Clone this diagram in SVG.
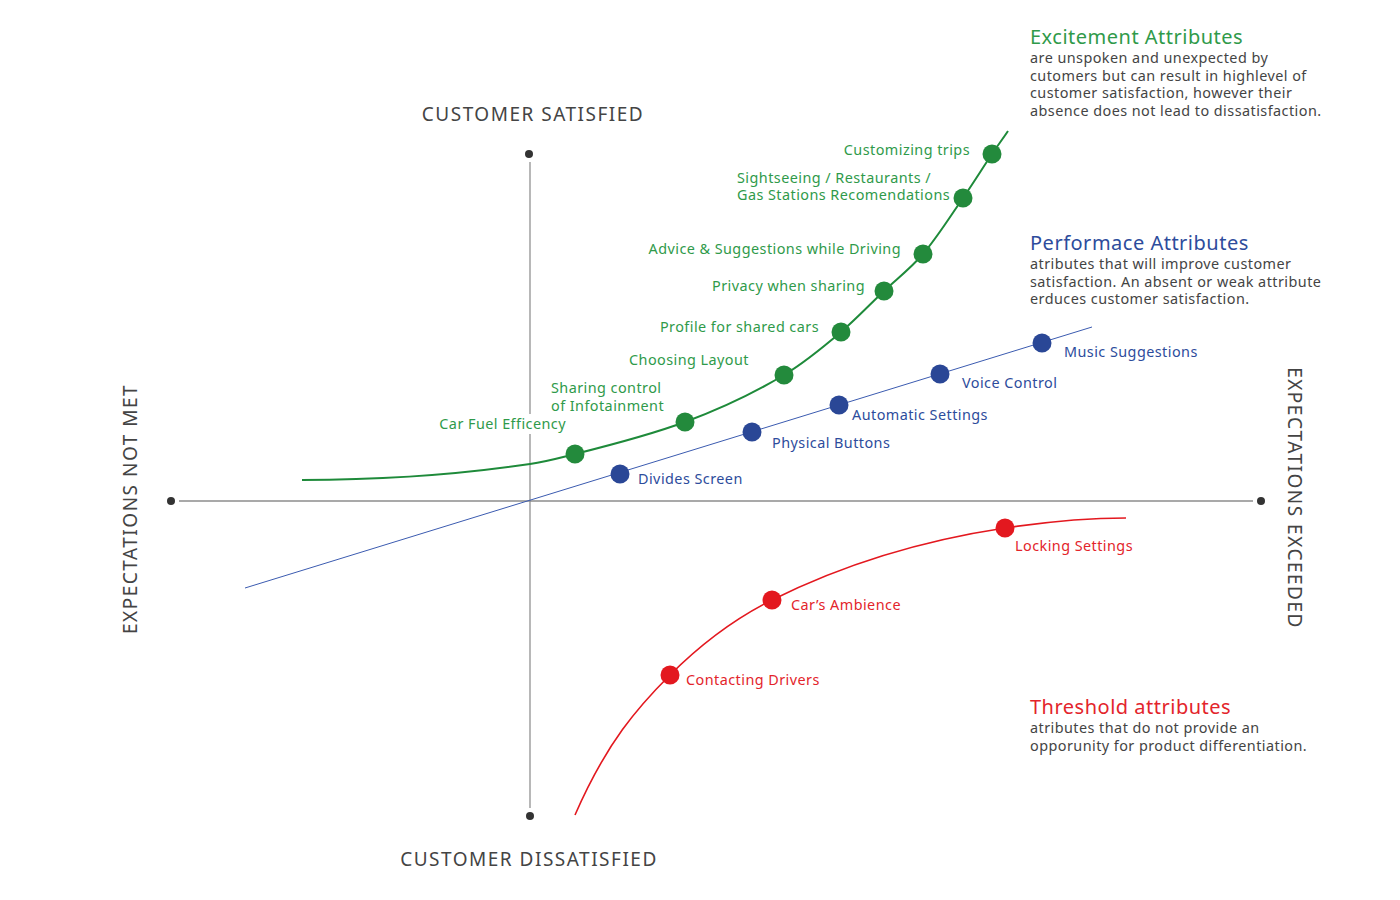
<svg xmlns="http://www.w3.org/2000/svg" width="1400" height="900" viewBox="0 0 1400 900">
<style>
text{font-family:"Noto Sans","Liberation Sans",sans-serif}
.axis-label{font-size:19px;fill:#444;letter-spacing:1.5px}
.lbl{font-size:14.4px;letter-spacing:0.45px}
.g{fill:#2f9a4a}
.b{fill:#2d4c9c}
.r{fill:#e3242b}
.gd{fill:#238a3c}
.bd{fill:#2a4796}
.rd{fill:#e3181f}
.title{font-size:20px;letter-spacing:0.5px}
.body{font-size:14.4px;fill:#444;letter-spacing:0.45px}
.ax-dot{fill:#333}
</style>
<rect width="1400" height="900" fill="#fff"/>
<g id="axes">
  <line x1="179" y1="501" x2="1253" y2="501" stroke="#555" stroke-width="1.2"/>
  <line x1="530" y1="162" x2="530" y2="808" stroke="#888" stroke-width="1.2"/>
  <circle class="ax-dot" cx="171" cy="501" r="4"/>
  <circle class="ax-dot" cx="1261" cy="501" r="4"/>
  <circle class="ax-dot" cx="529" cy="154" r="4"/>
  <circle class="ax-dot" cx="530" cy="816" r="4"/>
  <text class="axis-label" x="533" y="121" text-anchor="middle">CUSTOMER SATISFIED</text>
  <text class="axis-label" x="529" y="866" text-anchor="middle">CUSTOMER DISSATISFIED</text>
  <text class="axis-label" transform="translate(137,509) rotate(-90)" text-anchor="middle">EXPECTATIONS NOT MET</text>
  <text class="axis-label" transform="translate(1288,498) rotate(90)" text-anchor="middle">EXPECTATIONS EXCEEDED</text>
</g>
<g id="connectors" fill="none">
  <path id="excitement-curve" stroke="#1e8a3a" stroke-width="2" d="M302,480 C378,480 454,475.4 530,464 C545,461.75 560,457.75 575,454 C611.7,444.8 648.3,435.6 685,422 C718,409.8 751,394.8 784,375 C803,363.6 822,348.2 841,332 C855.3,319.8 869.7,304.6 884,291 C897,278.650 910,269 923,254 C936.3,238.7 949.7,217.3 963,198 C972.7,184 982.3,168.5 992,154 C997.3,146 1002.7,139 1008,131"/>
  <line id="performance-line" x1="245" y1="588" x2="1092" y2="327" stroke="#3b5bb0" stroke-width="1"/>
  <path id="threshold-curve" stroke="#e3181f" stroke-width="1.6" d="M575,815 C606.7,742.2 638.3,706.7 670,675 C704,641 738,617 772,600 C849.7,561.2 927.3,539.7 1005,528 C1045.3,522 1085.7,518 1126,518"/>
</g>
<g id="node-customizing-trips"><circle class="gd" cx="992" cy="154" r="9.5"/><text class="lbl g" x="970" y="155" text-anchor="end">Customizing trips</text></g>
<g id="node-sightseeing"><circle class="gd" cx="963" cy="198" r="9.5"/><text class="lbl g" x="737" y="183">Sightseeing / Restaurants /</text><text class="lbl g" x="737" y="200">Gas Stations Recomendations</text></g>
<g id="node-advice"><circle class="gd" cx="923" cy="254" r="9.5"/><text class="lbl g" x="901" y="254" text-anchor="end">Advice &amp; Suggestions while Driving</text></g>
<g id="node-privacy"><circle class="gd" cx="884" cy="291" r="9.5"/><text class="lbl g" x="865" y="291" text-anchor="end">Privacy when sharing</text></g>
<g id="node-profile"><circle class="gd" cx="841" cy="332" r="9.5"/><text class="lbl g" x="819" y="332" text-anchor="end">Profile for shared cars</text></g>
<g id="node-layout"><circle class="gd" cx="784" cy="375" r="9.5"/><text class="lbl g" x="749" y="365" text-anchor="end">Choosing Layout</text></g>
<g id="node-sharing"><circle class="gd" cx="685" cy="422" r="9.5"/><text class="lbl g" x="551" y="393">Sharing control</text><text class="lbl g" x="551" y="411">of Infotainment</text></g>
<g id="node-fuel"><circle class="gd" cx="575" cy="454" r="9.5"/><rect x="432" y="414" width="136" height="20" fill="#fff"/><text class="lbl g" x="566" y="429" text-anchor="end">Car Fuel Efficency</text></g>
<g id="node-divides"><circle class="bd" cx="620" cy="474" r="9.5"/><text class="lbl b" x="638" y="484">Divides Screen</text></g>
<g id="node-physical"><circle class="bd" cx="752" cy="432" r="9.5"/><text class="lbl b" x="772" y="448">Physical Buttons</text></g>
<g id="node-automatic"><circle class="bd" cx="839" cy="405" r="9.5"/><text class="lbl b" x="852" y="420">Automatic Settings</text></g>
<g id="node-voice"><circle class="bd" cx="940" cy="374" r="9.5"/><text class="lbl b" x="962" y="388">Voice Control</text></g>
<g id="node-music"><circle class="bd" cx="1042" cy="343" r="9.5"/><text class="lbl b" x="1064" y="357">Music Suggestions</text></g>
<g id="node-locking"><circle class="rd" cx="1005" cy="528" r="9.5"/><text class="lbl r" x="1015" y="551">Locking Settings</text></g>
<g id="node-ambience"><circle class="rd" cx="772" cy="600" r="9.5"/><text class="lbl r" x="791" y="610">Car’s Ambience</text></g>
<g id="node-contacting"><circle class="rd" cx="670" cy="675" r="9.5"/><text class="lbl r" x="686" y="685">Contacting Drivers</text></g>
<g id="legend-excitement">
  <text class="title g" x="1030" y="44">Excitement Attributes</text>
  <text class="body" x="1030" y="63">are unspoken and unexpected by</text>
  <text class="body" x="1030" y="81">cutomers but can result in highlevel of</text>
  <text class="body" x="1030" y="98">customer satisfaction, however their</text>
  <text class="body" x="1030" y="116">absence does not lead to dissatisfaction.</text>
</g>
<g id="legend-performance">
  <text class="title b" x="1030" y="250">Performace Attributes</text>
  <text class="body" x="1030" y="269">atributes that will improve customer</text>
  <text class="body" x="1030" y="287">satisfaction. An absent or weak attribute</text>
  <text class="body" x="1030" y="304">erduces customer satisfaction.</text>
</g>
<g id="legend-threshold">
  <text class="title r" x="1030" y="714">Threshold attributes</text>
  <text class="body" x="1030" y="733">atributes that do not provide an</text>
  <text class="body" x="1030" y="751">opporunity for product differentiation.</text>
</g>
</svg>
